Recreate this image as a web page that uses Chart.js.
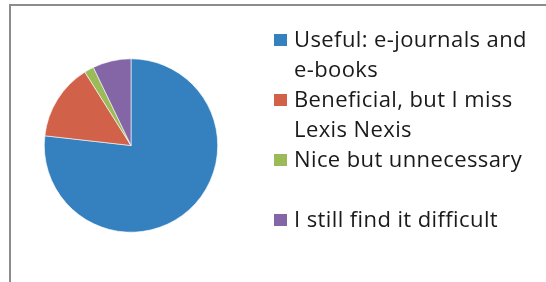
<!DOCTYPE html>
<html>
<head>
<meta charset="utf-8">
<script src="https://cdn.jsdelivr.net/npm/chart.js@4/dist/chart.umd.min.js"></script>
<style>
  html, body { margin: 0; padding: 0; background: #fff; }
  #wrap { width: 546px; height: 282px; }
</style>
</head>
<body>
<div id="wrap"><canvas id="chartPie" width="546" height="282"></canvas></div>
<script>
// Datos (respuestas, total 56)
const categorias = [
    ['Useful: e-journals and', 'e-books'],
    ['Beneficial, but I miss', 'Lexis Nexis'],
    ['Nice but unnecessary'],
    ['I still find it difficult']
];
const valores = [43, 8, 1, 4];
const colores = ['#3580bf', '#d2614a', '#9bbb59', '#8466a6'];

// Marco gris alrededor del gráfico
const marcoPlugin = {
    id: 'marco',
    beforeDraw(chart) {
        const ctx = chart.ctx;
        ctx.save();
        ctx.fillStyle = '#fff';
        ctx.fillRect(0, 0, chart.width, chart.height);
        ctx.strokeStyle = '#8c8c8c';
        ctx.lineWidth = 2;
        ctx.strokeRect(10, 5, chart.width + 10, chart.height + 10);
        ctx.restore();
    }
};

// Leyenda a la derecha, con textos en varias líneas como en Excel
const leyendaPlugin = {
    id: 'leyenda',
    afterDraw(chart) {
        const ctx = chart.ctx;
        const ds = chart.data.datasets[0];
        ctx.save();
        ctx.font = '22px "Open Sans"';
        ctx.letterSpacing = '0.4px';
        ctx.textBaseline = 'alphabetic';
        chart.data.labels.forEach((lineas, i) => {
            const top = 34 + i * 60;
            ctx.fillStyle = ds.backgroundColor[i];
            ctx.fillRect(274, top, 13, 12);
            ctx.fillStyle = '#1a1a1a';
            lineas.forEach((t, j) => {
                ctx.fillText(t, 294, top + 13 + j * 30);
            });
        });
        ctx.restore();
    }
};

new Chart(document.getElementById('chartPie'), {
    type: 'pie',
    data: {
        labels: categorias,
        datasets: [{
            data: valores,
            backgroundColor: colores,
            borderColor: '#ffffff',
            borderWidth: 0.6
        }]
    },
    options: {
        responsive: false,
        animation: false,
        layout: { padding: { left: 44, right: 328, top: 58, bottom: 49 } },
        plugins: {
            legend: { display: false },
            tooltip: { enabled: false }
        }
    },
    plugins: [marcoPlugin, leyendaPlugin]
});
</script>
</body>
</html>
